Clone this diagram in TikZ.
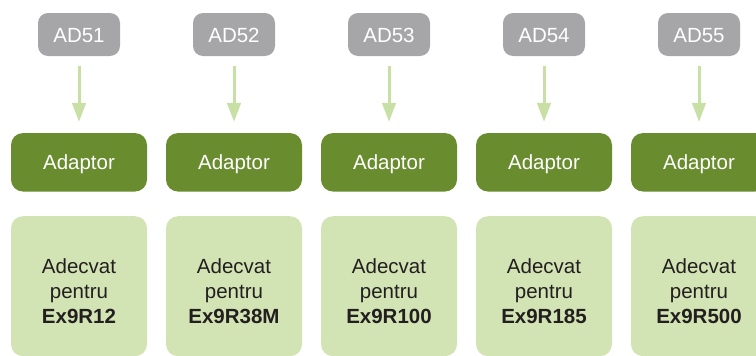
\documentclass[tikz,border=0pt]{standalone}
\usepackage{fontspec}
\setmainfont{Liberation Sans}
\usetikzlibrary{arrows.meta}
\definecolor{adgray}{HTML}{A6A6A8}
\definecolor{darkgreen}{HTML}{688C2E}
\definecolor{lightgreen}{HTML}{D2E4B4}
\definecolor{arrowgreen}{HTML}{C8E0A6}
\definecolor{txtdark}{HTML}{231F20}
\begin{document}
\begin{tikzpicture}[x=1pt,y=-1pt,
  adbox/.style={fill=adgray,rounded corners=10pt,minimum width=82pt,minimum height=43pt,inner sep=0pt,text=white,text height=15pt,text depth=0pt,font=\fontsize{20.5pt}{24pt}\selectfont},
  adaptbox/.style={fill=darkgreen,rounded corners=12pt,minimum width=136pt,minimum height=58.5pt,inner sep=0pt,text=white,text height=15pt,text depth=0pt,font=\fontsize{20.5pt}{24pt}\selectfont},
  suitbox/.style={fill=lightgreen,rounded corners=12pt,minimum width=136pt,minimum height=140pt,inner sep=0pt},
  suittext/.style={align=center,text=txtdark,inner sep=0pt,font=\fontsize{20.5pt}{25pt}\selectfont},
  feed/.style={draw=arrowgreen,line width=3pt,-{Triangle[width=13.5pt,length=19pt]}}
]
\useasboundingbox (0,0) rectangle (756,356);
\begin{scope}
\clip (0,0) rectangle (756,356);
\foreach \i/\lbl/\model in {0/AD51/Ex9R12,1/AD52/Ex9R38M,2/AD53/Ex9R100,3/AD54/Ex9R185,4/AD55/Ex9R500}{
  \pgfmathsetmacro{\cx}{79+155*\i}
  \node[adbox] (ad\i) at (\cx,34.5) {\lbl};
  \node[adaptbox] (adp\i) at (\cx,162.3) {Adaptor};
  \node[suitbox,anchor=north] (s\i) at (\cx,216) {};
  \node[suittext] (t\i) at (\cx,291) {Adecvat\\pentru\\\textbf{\model}};
  \draw[feed] ([yshift=-10pt]ad\i.south) -- ([yshift=11pt]adp\i.north);
}
\end{scope}
\end{tikzpicture}
\end{document}
